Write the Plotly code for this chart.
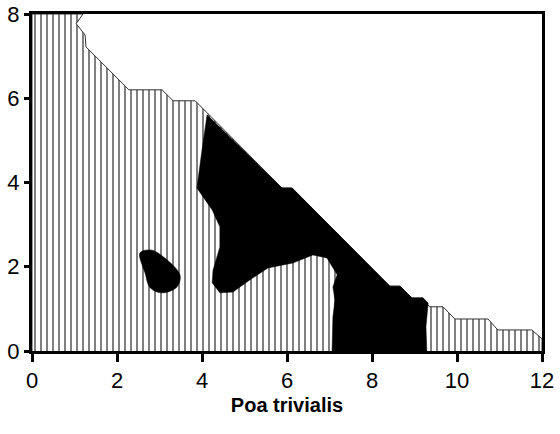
import plotly.graph_objects as go

# Hatched region (upper boundary as staircase polyline), data units
hatch_x = [0, 0, 1.2, 1.04, 1.25, 1.27, 2.28, 3.06, 3.32, 3.84, 5.88, 6.12, 8.42, 8.66,
           8.94, 9.2, 9.35, 9.67, 9.95, 10.73, 10.96, 11.76, 12.0, 12.0]
hatch_y = [0, 8, 8, 7.77, 7.5, 7.22, 6.2, 6.2, 5.94, 5.94, 3.87, 3.87, 1.54, 1.54,
           1.26, 1.26, 1.05, 1.05, 0.76, 0.76, 0.5, 0.5, 0.29, 0]

# Large black region
big_x = [4.12, 5.88, 6.12, 8.42, 8.66, 8.94, 9.2, 9.32, 9.27, 9.29, 7.06, 7.08, 7.13, 7.08,
         7.18, 6.94, 6.61, 6.14, 5.55, 5.13, 4.73, 4.42, 4.24, 4.26, 4.42, 4.42, 4.24, 3.88,
         4.0, 4.12]
big_y = [5.61, 3.87, 3.87, 1.54, 1.54, 1.26, 1.26, 1.14, 0.57, 0, 0, 0.81, 1.21, 1.52,
         1.81, 2.21, 2.28, 2.09, 1.97, 1.69, 1.40, 1.38, 1.62, 1.92, 2.47, 2.95, 3.35, 3.87,
         4.77, 5.61]

# Small black blob
small_x = [2.54, 2.78, 2.96, 3.48, 3.41, 3.06, 2.78, 2.66, 2.54]
small_y = [2.33, 2.40, 2.33, 1.81, 1.52, 1.38, 1.50, 1.85, 2.33]

x_ticks = [0, 2, 4, 6, 8, 10, 12]
y_ticks = [0, 2, 4, 6, 8]
x_title = "Poa trivialis"

FONT = "Liberation Sans, Arial"

fig = go.Figure()
fig.add_trace(go.Scatter(
    x=hatch_x, y=hatch_y, mode="lines", fill="toself",
    line=dict(color="#333333", width=1),
    fillcolor="white",
    fillpattern=dict(shape="|", size=6, solidity=0.34, fgcolor="#808080",
                     bgcolor="white", fillmode="replace"),
    hoverinfo="skip", showlegend=False))
fig.add_trace(go.Scatter(
    x=big_x, y=big_y, mode="lines", fill="toself",
    line=dict(color="black", width=0.5), fillcolor="black",
    hoverinfo="skip", showlegend=False))
fig.add_trace(go.Scatter(
    x=small_x, y=small_y, mode="lines", fill="toself", line_shape="spline",
    line=dict(color="black", width=0.5), fillcolor="black",
    hoverinfo="skip", showlegend=False))

axis_common = dict(showline=True, linecolor="black", linewidth=3, mirror=True,
                   showgrid=False, zeroline=False, ticks="outside",
                   tickcolor="black", tickwidth=3, automargin=False)
fig.update_xaxes(range=[0, 12], tickvals=x_ticks, ticklen=8,
                 title=dict(text=f"<b>{x_title}</b>", standoff=6,
                            font=dict(size=20, family=FONT, color="black")),
                 tickfont=dict(size=22, family=FONT, color="black"),
                 **axis_common)
fig.update_yaxes(range=[0, 8], tickvals=y_ticks, ticklen=5, ticklabelstandoff=0,
                 tickfont=dict(size=22, family=FONT, color="black"),
                 **axis_common)
fig.update_layout(width=560, height=434, plot_bgcolor="white", paper_bgcolor="white",
                  margin=dict(l=32, r=18, t=14, b=83, autoexpand=False))
fig.write_html("out.html", config={"displayModeBar": False},
               post_script="document.body.style.margin='0px';")
